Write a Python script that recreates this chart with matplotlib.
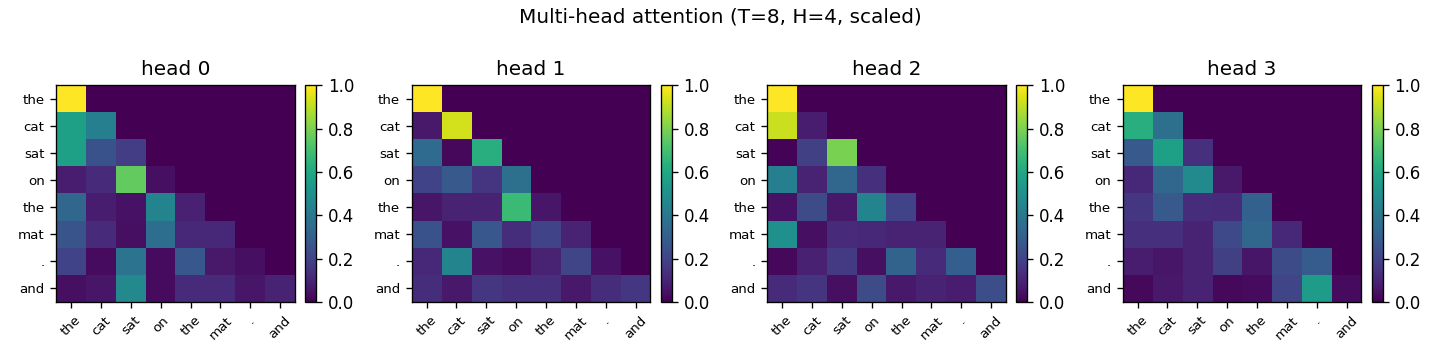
import numpy as np
import matplotlib
matplotlib.use("Agg")
import matplotlib.pyplot as plt

tokens = ["the", "cat", "sat", "on", "the", "mat", ".", "and"]

head0 = [
    [1.00, 0, 0, 0, 0, 0, 0, 0],
    [0.57, 0.43, 0, 0, 0, 0, 0, 0],
    [0.57, 0.25, 0.18, 0, 0, 0, 0, 0],
    [0.08, 0.12, 0.76, 0.04, 0, 0, 0, 0],
    [0.33, 0.08, 0.05, 0.45, 0.09, 0, 0, 0],
    [0.26, 0.12, 0.04, 0.36, 0.11, 0.11, 0, 0],
    [0.20, 0.03, 0.38, 0.03, 0.27, 0.07, 0.04, 0],
    [0.04, 0.06, 0.47, 0.03, 0.12, 0.12, 0.06, 0.10],
]
head1 = [
    [1.00, 0, 0, 0, 0, 0, 0, 0],
    [0.07, 0.93, 0, 0, 0, 0, 0, 0],
    [0.35, 0.02, 0.63, 0, 0, 0, 0, 0],
    [0.20, 0.28, 0.15, 0.37, 0, 0, 0, 0],
    [0.06, 0.10, 0.10, 0.68, 0.06, 0, 0, 0],
    [0.25, 0.05, 0.27, 0.13, 0.20, 0.10, 0, 0],
    [0.11, 0.45, 0.05, 0.03, 0.10, 0.21, 0.05, 0],
    [0.13, 0.07, 0.16, 0.14, 0.14, 0.07, 0.13, 0.16],
]
head2 = [
    [1.00, 0, 0, 0, 0, 0, 0, 0],
    [0.92, 0.08, 0, 0, 0, 0, 0, 0],
    [0.01, 0.19, 0.80, 0, 0, 0, 0, 0],
    [0.43, 0.10, 0.33, 0.14, 0, 0, 0, 0],
    [0.05, 0.23, 0.07, 0.45, 0.20, 0, 0, 0],
    [0.50, 0.04, 0.12, 0.11, 0.10, 0.10, 0, 0],
    [0.02, 0.09, 0.17, 0.04, 0.32, 0.12, 0.30, 0],
    [0.12, 0.15, 0.04, 0.23, 0.07, 0.10, 0.08, 0.24],
]
head3 = [
    [1.00, 0, 0, 0, 0, 0, 0, 0],
    [0.63, 0.37, 0, 0, 0, 0, 0, 0],
    [0.28, 0.57, 0.14, 0, 0, 0, 0, 0],
    [0.11, 0.33, 0.48, 0.07, 0, 0, 0, 0],
    [0.16, 0.28, 0.13, 0.12, 0.31, 0, 0, 0],
    [0.14, 0.14, 0.10, 0.22, 0.33, 0.11, 0, 0],
    [0.08, 0.06, 0.10, 0.19, 0.06, 0.23, 0.29, 0],
    [0.02, 0.07, 0.10, 0.02, 0.03, 0.21, 0.55, 0.03],
]
heads = [head0, head1, head2, head3]

fig, axes = plt.subplots(1, 4, figsize=(12, 3))
for h, ax in enumerate(axes):
    im = ax.imshow(np.array(heads[h]), cmap="viridis", vmin=0, vmax=1, aspect="auto")
    ax.set_title(f"head {h}")
    ax.set_xticks(range(len(tokens)))
    ax.set_yticks(range(len(tokens)))
    ax.set_xticklabels(tokens, rotation=45, fontsize=8)
    ax.set_yticklabels(tokens, fontsize=8)
    fig.colorbar(im, ax=ax, fraction=0.046, pad=0.04)

fig.suptitle("Multi-head attention (T=8, H=4, scaled)")
fig.tight_layout(rect=(0, 0.003, 1, 0.997))
fig.savefig("out.png", dpi=120)
